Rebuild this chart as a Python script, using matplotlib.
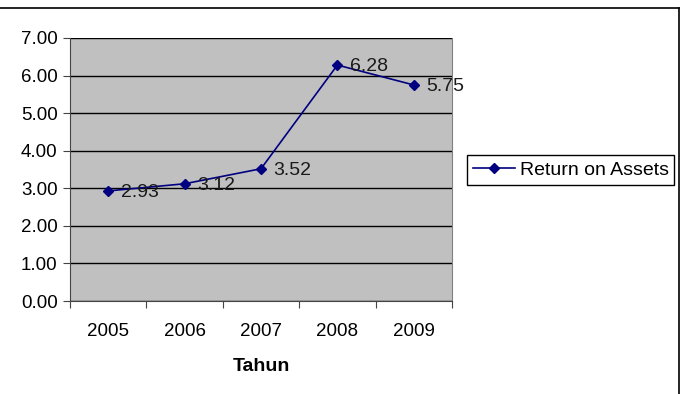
import matplotlib.pyplot as plt
from matplotlib.lines import Line2D

plt.rcParams['font.family'] = ['Liberation Sans', 'DejaVu Sans']

# data
tahun = ['2005', '2006', '2007', '2008', '2009']
roa = [2.93, 3.12, 3.52, 6.28, 5.75]

W, H = 685, 394
fig = plt.figure(figsize=(W / 100, H / 100), dpi=100)

# plot area in pixel coords
left, right, top, bottom = 70, 452, 38, 301
ax = fig.add_axes([left / W, 1 - bottom / H, (right - left) / W, (bottom - top) / H])
ax.set_facecolor('#C0C0C0')

fs = 13.5
x = list(range(len(tahun)))
ax.plot(x, roa, color='#000080', lw=1.2, marker='D', ms=5.5, label='Return on Assets', zorder=3)
for xi, v in zip(x, roa):
    ax.annotate(f'{v:.2f}', (xi, v), xytext=(9, -1), textcoords='offset points',
                ha='left', va='center', fontsize=14, color='#1a1a1a', zorder=4)

ax.set_xlim(-0.5, len(tahun) - 0.5)
ax.set_ylim(0, 7)
ax.set_yticks(range(0, 8))
ax.set_yticklabels([f'{v:.2f}' for v in range(0, 8)], fontsize=fs)
ax.yaxis.grid(True, color='#000000', lw=1)
ax.set_axisbelow(True)

# categories between tick marks
ax.set_xticks([i - 0.5 for i in range(len(tahun) + 1)])
ax.set_xticklabels([])
ax.set_xticks(x, minor=True)
ax.set_xticklabels(tahun, minor=True, fontsize=fs)
ax.tick_params(axis='x', which='minor', length=0, pad=16)
ax.tick_params(axis='x', which='major', length=5, direction='out', color='#444444')
ax.tick_params(axis='y', length=5, direction='out', color='#444444', pad=4)

ax.spines['top'].set_visible(False)
ax.spines['right'].set_color('#808080')
ax.spines['left'].set_color('#444444')
ax.spines['bottom'].set_color('#444444')

ax.set_xlabel('Tahun', fontsize=14, fontweight='bold', labelpad=13)

handle = Line2D([], [], color='#000080', lw=1.2, marker='D', ms=5.5)
fig.legend([handle], ['Return on Assets'], loc='center left',
           bbox_to_anchor=(467 / W, 1 - 170 / H), fontsize=14, frameon=True,
           fancybox=False, edgecolor='#000000', framealpha=1, borderpad=0.3,
           handlelength=2.15, handletextpad=0.25, borderaxespad=0)

# outer chart border (top and right visible)
fig.add_artist(Line2D([0, 679 / W], [1 - 8 / H, 1 - 8 / H], color='black', lw=1.2,
                      transform=fig.transFigure))
fig.add_artist(Line2D([679 / W, 679 / W], [1 - 8 / H, 0], color='black', lw=1.2,
                      transform=fig.transFigure))

fig.savefig('out.png', dpi=100)
